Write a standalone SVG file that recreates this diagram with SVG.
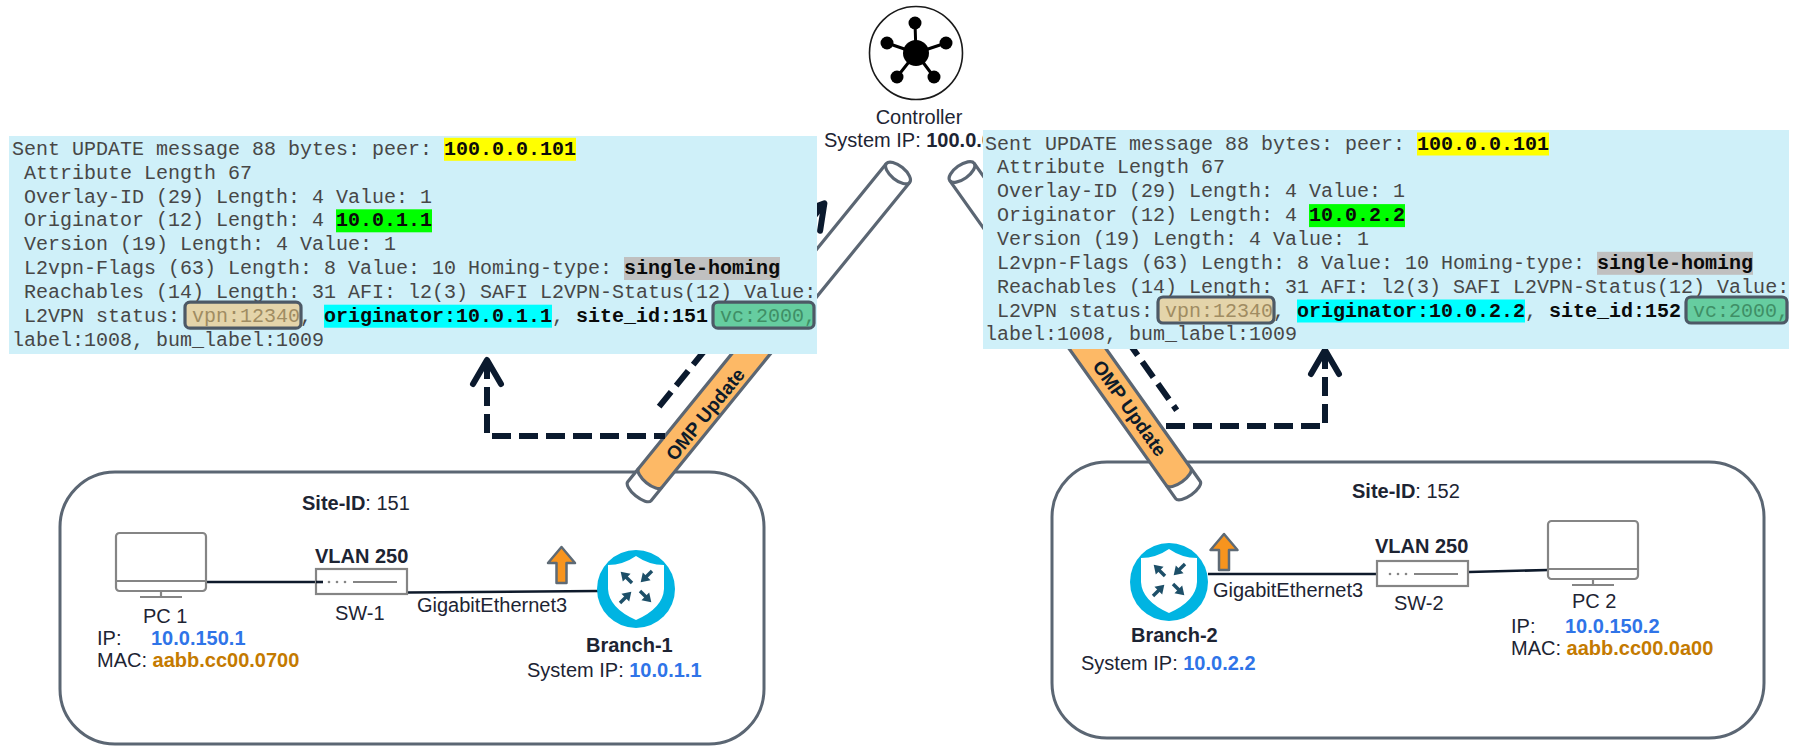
<svg xmlns="http://www.w3.org/2000/svg" xmlns:xlink="http://www.w3.org/1999/xlink" width="1797" height="748" viewBox="0 0 1797 748">
  <style>
    .mono { font-family: "Liberation Mono", "Courier New", monospace; font-size: 20px; fill: #474747; }
    .mb { font-weight: bold; fill: #0a0a0a; }
    .tan { fill: #a08c62; }
    .grn { fill: #3f8f66; }
    .sans { font-family: "Liberation Sans", Arial, sans-serif; font-size: 20px; fill: #1d2433; }
    .bold { font-weight: bold; }
    .ip { fill: #2f74e8; font-weight: bold; }
    .mac { fill: #c47a00; font-weight: bold; }
    .panel { fill: #cff0f9; }
    .site { fill: none; stroke: #5b6673; stroke-width: 3; }
    .tube-line { fill: none; stroke: #5b6673; stroke-width: 3.2; stroke-linejoin: round; }
    .dash { fill: none; stroke: #0b1a2e; stroke-width: 6; stroke-dasharray: 19 8; }
    .wire { fill: none; stroke: #0e1a2b; stroke-width: 2.6; }
    .gray { fill: none; stroke: #858585; stroke-width: 2.2; }
    .omp { font-family: "Liberation Sans", Arial, sans-serif; font-size: 19px; font-weight: bold; fill: #0d1b2a; }
    .tag { stroke: #4d5966; stroke-width: 3.2; fill: none; }
  </style>
  <defs>
    <marker id="chev" viewBox="-30 -20 40 40" markerWidth="40" markerHeight="40" refX="0" refY="0" markerUnits="userSpaceOnUse" orient="auto-start-reverse">
      <path d="M-24,-14 L0,0 L-24,14" fill="none" stroke="#0b1a2e" stroke-width="6" stroke-linecap="round" stroke-linejoin="round"/>
    </marker>
    <g id="arw">
      <path d="M0,0 H10" stroke="#1d4f68" stroke-width="3.4"/>
      <path d="M16,0 L7.5,-5.5 L7.5,5.5 Z" fill="#1d4f68"/>
    </g>
    <g id="router">
      <circle r="39" fill="#00b4e2"/>
      <path d="M0,-33 Q13,-24 28,-24 L28,0 Q27,19 0,31 Q-27,19 -28,0 L-28,-24 Q-13,-24 0,-33 Z" fill="#ffffff"/>
      <use xlink:href="#arw" transform="translate(-4,-6) rotate(-135)"/>
      <use xlink:href="#arw" transform="translate(16,-18) rotate(135)"/>
      <use xlink:href="#arw" transform="translate(-16,14) rotate(-45)"/>
      <use xlink:href="#arw" transform="translate(4,2) rotate(45)"/>
    </g>
    <path id="up" d="M0,0 L13.5,16 L5,16 L5,36 L-5,36 L-5,16 L-13.5,16 Z" fill="#f7941e" stroke="#5e6a75" stroke-width="2.5" stroke-linejoin="round"/>
    <g id="monitor" class="gray">
      <rect x="0" y="0" width="90" height="58" rx="3.5" fill="#ffffff"/>
      <path d="M0,48 H90 M45,58 V63 M24,64 H66"/>
    </g>
    <g id="switch">
      <rect x="0" y="0" width="91" height="25" fill="#ffffff" stroke="#858585" stroke-width="2.2"/>
      <path d="M37,13 H81" stroke="#858585" stroke-width="2.2"/>
      <circle cx="13" cy="13" r="1.3" fill="#858585"/>
      <circle cx="21" cy="13" r="1.3" fill="#858585"/>
      <circle cx="29" cy="13" r="1.3" fill="#858585"/>
    </g>
  </defs>

  <rect width="1797" height="748" fill="#ffffff"/>

  <!-- site enclosures -->
  <g id="site-151">
    <rect class="site" x="60" y="472" width="704" height="272" rx="55"/>
    <text class="sans" x="302" y="510" font-size="23"><tspan class="bold">Site-ID</tspan>: 151</text>
  </g>
  <g id="site-152">
    <rect class="site" x="1052" y="462" width="712" height="276" rx="55"/>
    <text class="sans" x="1352" y="498" font-size="23"><tspan class="bold">Site-ID</tspan>: 152</text>
  </g>

  <!-- controller -->
  <g id="controller">
    <circle cx="916" cy="53" r="46.5" fill="#ffffff" stroke="#1a1a1a" stroke-width="1.6"/>
    <path d="M916,53 L915,23 M916,53 L887,43 M916,53 L946,43 M916,53 L897,77 M916,53 L934,77" stroke="#000" stroke-width="3"/>
    <circle cx="916" cy="53" r="13" fill="#000"/>
    <circle cx="915" cy="23" r="6.5" fill="#000"/>
    <circle cx="887" cy="43" r="6.5" fill="#000"/>
    <circle cx="946" cy="43" r="6.5" fill="#000"/>
    <circle cx="897" cy="77" r="6.5" fill="#000"/>
    <circle cx="934" cy="77" r="6.5" fill="#000"/>
    <text class="sans" x="919" y="124" text-anchor="middle">Controller</text>
    <text class="sans" x="824" y="147">System IP: <tspan class="bold">100.0.0.101</tspan></text>
  </g>

  <!-- OMP update tubes -->
  <g id="tube-left" transform="translate(898,173) rotate(129.1)">
    <path d="M0,-15 H410 A6,15 0 0 1 410,15 H0 Z" fill="#ffffff"/>
    <path d="M200,-15 H393 A6,15 0 0 1 393,15 H200 Z" fill="#fdb966"/>
    <path class="tube-line" d="M393,-15 A6,15 0 0 1 393,15"/>
    <path class="tube-line" d="M0,-15 H410 A6,15 0 0 1 410,15 H0"/>
    <ellipse class="tube-line" cx="0" cy="0" rx="7" ry="15" fill="#ffffff"/>
  </g>
  <text class="omp" transform="translate(705,414) rotate(-50.9)" text-anchor="middle" y="7">OMP Update</text>

  <g id="tube-right" transform="translate(962,172) rotate(54.6)">
    <path d="M0,-15 H390 A6,15 0 0 1 390,15 H0 Z" fill="#ffffff"/>
    <path d="M150,-15 H374 A6,15 0 0 1 374,15 H150 Z" fill="#fdb966"/>
    <path class="tube-line" d="M374,-15 A6,15 0 0 1 374,15"/>
    <path class="tube-line" d="M0,-15 H390 A6,15 0 0 1 390,15 H0"/>
    <ellipse class="tube-line" cx="0" cy="0" rx="7" ry="15" fill="#ffffff"/>
  </g>
  <text class="omp" transform="translate(1130,408) rotate(54.6)" text-anchor="middle" y="7">OMP Update</text>

  <!-- connectors -->
  <g id="connectors">
    <path class="dash" d="M824.4,203.3 L654.1,412.8" marker-start="url(#chev)"/>
    <path class="dash" d="M487,360 V436 H665" marker-start="url(#chev)"/>
    <path class="dash" d="M1032.8,207.7 L1176.7,410.2" marker-start="url(#chev)"/>
    <path class="dash" d="M1325,350 V426 H1163" marker-start="url(#chev)"/>
    <path class="wire" d="M206,582 H323"/>
    <path class="wire" d="M407,592.5 L598,591"/>
    <path class="wire" d="M1208,574 H1385"/>
    <path class="wire" d="M1469,572 L1548,570"/>
  </g>

  <!-- site 151 devices -->
  <g id="pc1">
    <use xlink:href="#monitor" x="116" y="533"/>
    <text class="sans" x="143" y="623">PC 1</text>
    <text class="sans" x="97" y="645">IP:</text>
    <text class="sans ip" x="151" y="645">10.0.150.1</text>
    <text class="sans" x="97" y="667">MAC: <tspan class="mac">aabb.cc00.0700</tspan></text>
  </g>
  <g id="sw1">
    <use xlink:href="#switch" x="316" y="569"/>
    <path class="wire" d="M316,582 H323"/>
    <text class="sans bold" x="315" y="563">VLAN 250</text>
    <text class="sans" x="335" y="620">SW-1</text>
  </g>
  <g id="branch1">
    <use xlink:href="#router" x="636" y="589"/>
    <use xlink:href="#up" x="561.5" y="547"/>
    <text class="sans" x="417" y="612">GigabitEthernet3</text>
    <text class="sans bold" x="586" y="652" font-size="20.5">Branch-1</text>
    <text class="sans" x="527" y="677">System IP: <tspan class="ip">10.0.1.1</tspan></text>
  </g>

  <!-- site 152 devices -->
  <g id="branch2">
    <use xlink:href="#router" x="1169" y="582"/>
    <use xlink:href="#up" x="1224" y="534"/>
    <text class="sans" x="1213" y="597">GigabitEthernet3</text>
    <text class="sans bold" x="1131" y="642" font-size="20.5">Branch-2</text>
    <text class="sans" x="1081" y="670">System IP: <tspan class="ip">10.0.2.2</tspan></text>
  </g>
  <g id="sw2">
    <use xlink:href="#switch" x="1377" y="561"/>
    <text class="sans bold" x="1375" y="553">VLAN 250</text>
    <text class="sans" x="1394" y="610">SW-2</text>
  </g>
  <g id="pc2">
    <use xlink:href="#monitor" x="1548" y="521"/>
    <text class="sans" x="1572" y="608">PC 2</text>
    <text class="sans" x="1511" y="633">IP:</text>
    <text class="sans ip" x="1565" y="633">10.0.150.2</text>
    <text class="sans" x="1511" y="655">MAC: <tspan class="mac">aabb.cc00.0a00</tspan></text>
  </g>

  <!-- update dump, Branch-1 -->
  <g id="dump-left">
    <rect class="panel" x="9" y="136" width="808" height="218"/>
    <rect x="444" y="137.8" width="132" height="23" fill="#ffff00"/>
    <rect x="336" y="209.3" width="96" height="23" fill="#00ff00"/>
    <rect x="624" y="257" width="156" height="23" fill="#c0c0c0"/>
    <rect x="324" y="304.7" width="228" height="23" fill="#00ffff"/>
    <rect x="185" y="302.2" width="116" height="26" rx="5" fill="#e4d4aa"/>
    <rect x="713" y="302.2" width="101" height="26" rx="5" fill="#66cda0"/>
    <text class="mono" x="12" y="154.8">Sent UPDATE message 88 bytes: peer: <tspan class="mb" x="444">100.0.0.101</tspan></text>
    <text class="mono" x="24" y="178.6">Attribute Length 67</text>
    <text class="mono" x="24" y="202.5">Overlay-ID (29) Length: 4 Value: 1</text>
    <text class="mono" x="24" y="226.3">Originator (12) Length: 4 <tspan class="mb" x="336">10.0.1.1</tspan></text>
    <text class="mono" x="24" y="250.2">Version (19) Length: 4 Value: 1</text>
    <text class="mono" x="24" y="274">L2vpn-Flags (63) Length: 8 Value: 10 Homing-type: <tspan class="mb" x="624">single-homing</tspan></text>
    <text class="mono" x="24" y="297.9">Reachables (14) Length: 31 AFI: l2(3) SAFI L2VPN-Status(12) Value:</text>
    <text class="mono" x="24" y="321.7">L2VPN status: <tspan class="tan" x="192">vpn:12340</tspan><tspan x="300">, </tspan><tspan class="mb" x="324">originator:10.0.1.1</tspan><tspan x="552">, </tspan><tspan class="mb" x="576">site_id:151</tspan><tspan class="grn" x="720">vc:2000,</tspan></text>
    <text class="mono" x="12" y="345.6">label:1008, bum_label:1009</text>
    <rect class="tag" x="185" y="302.2" width="116" height="26" rx="5"/>
    <rect class="tag" x="713" y="302.2" width="101" height="26" rx="5"/>
  </g>

  <!-- update dump, Branch-2 -->
  <g id="dump-right">
    <rect class="panel" x="983" y="130" width="806" height="219"/>
    <rect x="1417" y="132.5" width="132" height="23" fill="#ffff00"/>
    <rect x="1309" y="204.1" width="96" height="23" fill="#00ff00"/>
    <rect x="1597" y="251.8" width="156" height="23" fill="#c0c0c0"/>
    <rect x="1297" y="299.5" width="228" height="23" fill="#00ffff"/>
    <rect x="1158" y="297" width="116" height="26" rx="5" fill="#e4d4aa"/>
    <rect x="1686" y="297" width="101" height="26" rx="5" fill="#66cda0"/>
    <text class="mono" x="985" y="149.5">Sent UPDATE message 88 bytes: peer: <tspan class="mb" x="1417">100.0.0.101</tspan></text>
    <text class="mono" x="997" y="173.4">Attribute Length 67</text>
    <text class="mono" x="997" y="197.2">Overlay-ID (29) Length: 4 Value: 1</text>
    <text class="mono" x="997" y="221.1">Originator (12) Length: 4 <tspan class="mb" x="1309">10.0.2.2</tspan></text>
    <text class="mono" x="997" y="244.9">Version (19) Length: 4 Value: 1</text>
    <text class="mono" x="997" y="268.8">L2vpn-Flags (63) Length: 8 Value: 10 Homing-type: <tspan class="mb" x="1597">single-homing</tspan></text>
    <text class="mono" x="997" y="292.6">Reachables (14) Length: 31 AFI: l2(3) SAFI L2VPN-Status(12) Value:</text>
    <text class="mono" x="997" y="316.5">L2VPN status: <tspan class="tan" x="1165">vpn:12340</tspan><tspan x="1273">, </tspan><tspan class="mb" x="1297">originator:10.0.2.2</tspan><tspan x="1525">, </tspan><tspan class="mb" x="1549">site_id:152</tspan><tspan class="grn" x="1693">vc:2000,</tspan></text>
    <text class="mono" x="985" y="340.3">label:1008, bum_label:1009</text>
    <rect class="tag" x="1158" y="297" width="116" height="26" rx="5"/>
    <rect class="tag" x="1686" y="297" width="101" height="26" rx="5"/>
  </g>
</svg>
